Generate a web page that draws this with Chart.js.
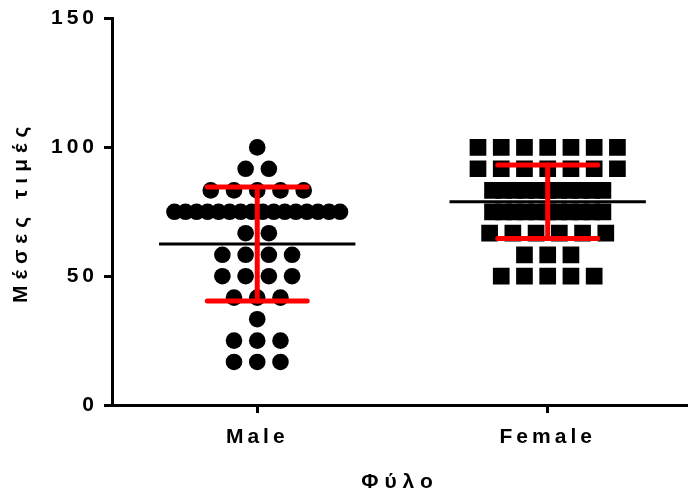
<!DOCTYPE html>
<html>
<head>
<meta charset="utf-8">
<script src="https://cdn.jsdelivr.net/npm/chart.js@4.4.1/dist/chart.umd.min.js"></script>
<style>
  html, body { margin: 0; padding: 0; background: #fff; }
</style>
</head>
<body>
<canvas id="chart" width="688" height="498"></canvas>
<script>
// 데이터
const categories = ['Male', 'Female'];
const maleValues = [
  100,
  91.7, 91.7,
  83.3, 83.3, 83.3, 83.3, 83.3,
  75, 75, 75, 75, 75, 75, 75, 75, 75, 75, 75, 75, 75, 75, 75, 75,
  66.7, 66.7,
  58.3, 58.3, 58.3, 58.3,
  50, 50, 50, 50,
  41.7, 41.7, 41.7,
  33.3,
  25, 25, 25,
  16.7, 16.7, 16.7,
];
const femaleValues = [
  100, 100, 100, 100, 100, 100, 100,
  91.7, 91.7, 91.7, 91.7, 91.7, 91.7, 91.7,
  83.3, 83.3, 83.3, 83.3, 83.3, 83.3, 83.3, 83.3, 83.3, 83.3, 83.3,
  75, 75, 75, 75, 75, 75, 75, 75, 75, 75, 75,
  66.7, 66.7, 66.7, 66.7, 66.7, 66.7,
  58.3, 58.3, 58.3,
  50, 50, 50, 50, 50,
];
const groupMeans = [62.5, 78.9];
const groupSDs = [22.1, 14.3];
const yTicks = [0, 50, 100, 150];

const FONT = { family: "'Liberation Sans', Arial, sans-serif", size: 21, weight: 'bold' };

// 같은 값끼리 한 줄로 펼치기 (Prism 스타일 비슷하게)
const spreadPoints = (values, center) => {
  const rows = new Map();
  values.forEach((v) => {
    if (!rows.has(v)) rows.set(v, []);
    rows.get(v).push(v);
  });
  const points = [];
  rows.forEach((row) => {
    const n = row.length;
    const step = n <= 7 ? 0.08 : 0.038;
    row.forEach((v, i) => points.push({ x: center + (i - (n - 1) / 2) * step, y: v }));
  });
  return points;
};

const segment = (x1, y1, x2, y2, color, width) => ({
  type: 'line',
  data: [{ x: x1, y: y1 }, { x: x2, y: y2 }],
  borderColor: color,
  borderWidth: width,
  borderCapStyle: 'round',
  pointRadius: 0,
  showLine: true,
  order: 1,
});

const statDatasets = [];
categories.forEach((_, i) => {
  const c = i + 0.5;
  const m = groupMeans[i];
  const sd = groupSDs[i];
  const line = segment(c - 0.338, m, c + 0.338, m, '#000', 3);
  line.borderCapStyle = 'butt';
  line.order = 2;
  statDatasets.push(line);
  statDatasets.push(segment(c, m - sd, c, m + sd, '#ff0000', 5));
  statDatasets.push(segment(c - 0.172, m + sd, c + 0.172, m + sd, '#ff0000', 5));
  statDatasets.push(segment(c - 0.172, m - sd, c + 0.172, m - sd, '#ff0000', 5));
});

new Chart(document.getElementById('chart'), {
  type: 'scatter',
  data: {
    datasets: [
      {
        label: 'Male',
        data: spreadPoints(maleValues, 0.5),
        pointStyle: 'circle',
        pointRadius: 8.3,
        backgroundColor: '#000',
        borderWidth: 0,
        order: 3,
      },
      {
        label: 'Female',
        data: spreadPoints(femaleValues, 1.5),
        pointStyle: 'rect',
        pointRadius: 11.8,
        backgroundColor: '#000',
        borderWidth: 0,
        order: 3,
      },
      ...statDatasets,
    ],
  },
  options: {
    responsive: false,
    animation: false,
    devicePixelRatio: 1,
    layout: { autoPadding: false, padding: { top: 17, right: 0, left: 0, bottom: 0 } },
    plugins: {
      legend: { display: false },
      tooltip: { enabled: false },
    },
    scales: {
      x: {
        type: 'linear',
        min: 0,
        max: 1.983,
        afterBuildTicks: (scale) => {
          scale.ticks = categories.map((_, i) => ({ value: i + 0.5 }));
        },
        afterFit: (scale) => { scale.height = 93; },
        ticks: {
          z: 1, // 라벨은 데이터 다음에 그림 (자간 따로 주려고)
          autoSkip: false,
          maxRotation: 0,
          padding: 12,
          color: '#000',
          font: FONT,
          callback: (value) => categories[Math.round(value - 0.5)],
        },
        grid: {
          drawOnChartArea: false,
          drawTicks: true,
          tickLength: 8,
          tickWidth: 3,
          tickColor: '#000',
        },
        border: { display: true, width: 3, color: '#000' },
        title: {
          display: true,
          text: 'Φύλο',
          color: '#000',
          font: FONT,
          padding: { top: 0, bottom: 3 },
        },
      },
      y: {
        min: 0,
        max: 150,
        afterBuildTicks: (scale) => {
          scale.ticks = yTicks.map((v) => ({ value: v }));
        },
        afterFit: (scale) => { scale.width = 112; },
        ticks: {
          z: 1,
          padding: 6,
          color: '#000',
          font: FONT,
        },
        grid: {
          drawOnChartArea: false,
          drawTicks: true,
          tickLength: 8,
          tickWidth: 3,
          tickColor: '#000',
        },
        border: { display: true, width: 3, color: '#000' },
        title: {
          display: true,
          text: 'Μέσες τιμές',
          color: '#000',
          font: FONT,
          padding: { top: 9, bottom: 0 },
        },
      },
    },
  },
  plugins: [
    {
      id: 'letterSpacing',
      // 축 제목은 넓게, 눈금 라벨은 조금 좁게
      beforeDraw: (chart) => { chart.ctx.letterSpacing = '6px'; },
      afterDatasetsDraw: (chart) => { chart.ctx.letterSpacing = '4px'; },
    },
  ],
});
</script>
</body>
</html>
